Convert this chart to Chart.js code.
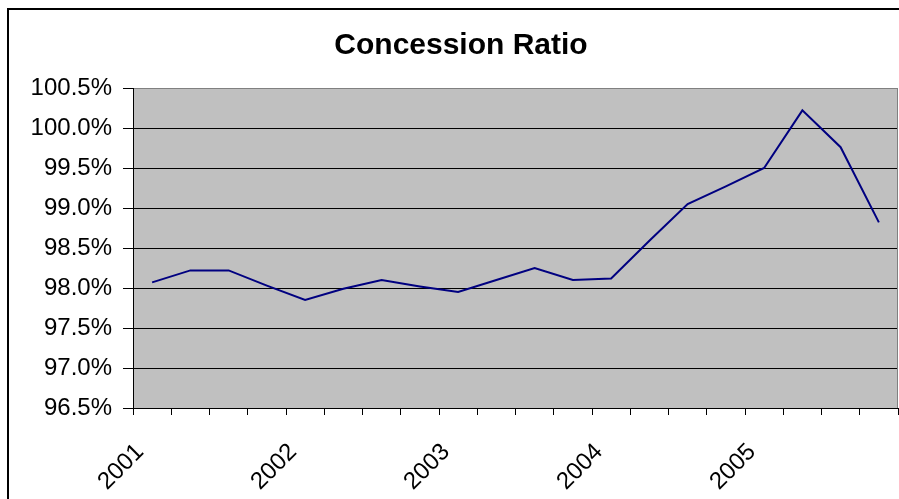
<!DOCTYPE html>
<html>
<head>
<meta charset="utf-8">
<script src="https://cdn.jsdelivr.net/npm/chart.js@4"></script>
<style>
  html, body { margin: 0; padding: 0; background: #fff; overflow: hidden; }
  #wrap { width: 899px; height: 499px; position: relative; }
</style>
</head>
<body>
<div id="wrap"><canvas id="ratioChart"></canvas></div>
<script>
// quarterly points, year label on the first quarter only
const quarters = ["2001", "", "", "", "2002", "", "", "", "2003", "", "", "",
  "2004", "", "", "", "2005", "", "", ""];
const concessionRatio = [98.07, 98.22, 98.22, 98.03, 97.85, 97.99, 98.10, 98.02,
  97.95, 98.10, 98.25, 98.10, 98.12, 98.59, 99.05, 99.27, 99.50, 100.22, 99.76, 98.82];
const yTicks = [96.5, 97.0, 97.5, 98.0, 98.5, 99.0, 99.5, 100.0, 100.5];

const fontFamily = "'Liberation Sans', Arial, sans-serif";

// plot area fill + outer frame (Excel look)
const frame = {
  id: "frame",
  beforeDraw(chart) {
    const ctx = chart.ctx;
    const a = chart.chartArea;
    ctx.save();
    ctx.fillStyle = "#fff";
    ctx.fillRect(0, 0, chart.width, chart.height);
    ctx.fillStyle = "#c0c0c0";
    ctx.fillRect(a.left, a.top, a.right - a.left, a.bottom - a.top);
    ctx.strokeStyle = "#000";
    ctx.lineWidth = 2;
    ctx.beginPath();
    ctx.moveTo(8, chart.height);
    ctx.lineTo(8, 9);
    ctx.lineTo(chart.width, 9);
    ctx.stroke();
    ctx.restore();
  },
  afterDraw(chart) {
    const ctx = chart.ctx;
    const a = chart.chartArea;
    ctx.save();
    ctx.strokeStyle = "#808080";
    ctx.lineWidth = 1;
    ctx.beginPath();
    ctx.moveTo(a.right - 0.5, a.top);
    ctx.lineTo(a.right - 0.5, a.bottom);
    ctx.stroke();
    ctx.restore();
  }
};

new Chart(document.getElementById("ratioChart"), {
  type: "line",
  data: {
    labels: quarters,
    datasets: [{
      label: "Concession Ratio",
      data: concessionRatio,
      borderColor: "#000080",
      borderWidth: 2,
      pointRadius: 0,
      tension: 0,
      fill: false
    }]
  },
  options: {
    responsive: true,
    maintainAspectRatio: false,
    animation: false,
    layout: { padding: { left: 24, right: 1, top: 0, bottom: 0 } },
    plugins: {
      legend: { display: false },
      tooltip: { enabled: false },
      title: {
        display: true,
        text: "Concession Ratio",
        color: "#000",
        font: { family: fontFamily, size: 30, weight: "bold" },
        padding: { top: 28, bottom: 24 }
      }
    },
    scales: {
      x: {
        type: "category",
        offset: true,
        grid: {
          offset: true,
          drawOnChartArea: false,
          tickLength: 7,
          color: "#000"
        },
        border: { color: "#000", width: 1 },
        ticks: {
          autoSkip: false,
          minRotation: 45,
          maxRotation: 45,
          padding: 23,
          labelOffset: -12,
          color: "#000",
          font: { family: fontFamily, size: 24 }
        },
        afterFit(scale) {
          scale.height = 91;
          scale.paddingLeft = 0;
          scale.paddingRight = 0;
        }
      },
      y: {
        min: yTicks[0],
        max: yTicks[yTicks.length - 1],
        afterBuildTicks(scale) {
          scale.ticks = yTicks.map(v => ({ value: v }));
        },
        grid: {
          color: (c) => (c.tick && c.tick.value === yTicks[yTicks.length - 1]) ? "#808080" : "#000",
          tickColor: "#000",
          tickLength: 10,
          lineWidth: 1
        },
        border: { color: "#000", width: 1 },
        ticks: {
          padding: 11,
          color: "#000",
          font: { family: fontFamily, size: 24 },
          callback: (v) => Number(v).toFixed(1) + "%"
        },
        afterFit(scale) { scale.width = 109; }
      }
    }
  },
  plugins: [frame]
});
</script>
</body>
</html>
